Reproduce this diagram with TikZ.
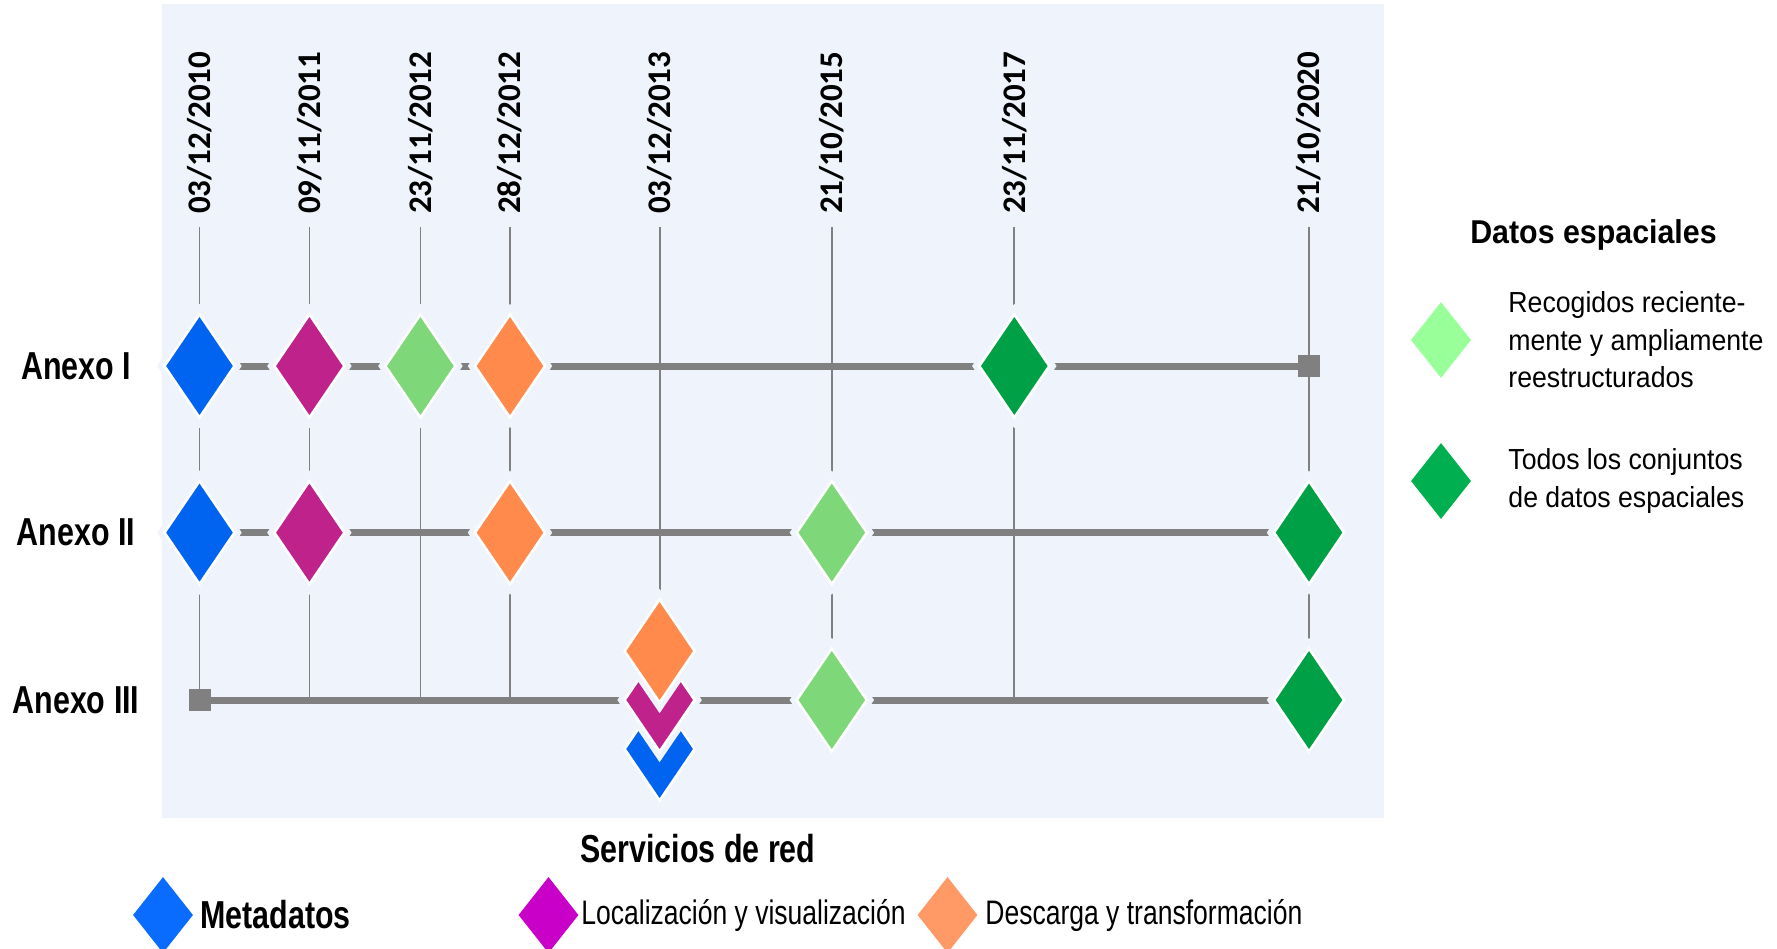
\documentclass[tikz,border=0pt]{standalone}
\usepackage{fontspec}
\setmainfont{Liberation Sans}
\newfontfamily\narrowfont[FakeStretch=0.78]{Liberation Sans}
\newfontfamily\legfont[FakeStretch=0.92]{Liberation Sans}
\newfontfamily\datefont{Carlito}
\usetikzlibrary{shapes.geometric,positioning}

\definecolor{panel}{RGB}{239,244,252}
\definecolor{linegray}{RGB}{128,128,128}
\definecolor{metablue}{RGB}{0,100,240}
\definecolor{visumag}{RGB}{192,34,140}
\definecolor{descorange}{RGB}{255,138,76}
\definecolor{recgreen}{RGB}{126,216,122}
\definecolor{allgreen}{RGB}{0,160,70}
\definecolor{legblue}{RGB}{10,108,255}
\definecolor{legmag}{RGB}{200,0,200}
\definecolor{legorange}{RGB}{255,153,102}
\definecolor{leglight}{RGB}{153,255,153}
\definecolor{legdark}{RGB}{0,176,80}

\pgfdeclarelayer{back}
\pgfdeclarelayer{lines}
\pgfsetlayers{back,lines,main}

\begin{document}
\begin{tikzpicture}[x=1pt, y=-1pt,
    hito/.style={diamond, inner sep=0, minimum width=71, minimum height=104,
        fill=#1, draw=white, line width=2.5, preaction={draw=panel, line width=12}},
    fin/.style={rectangle, inner sep=0, minimum size=22, fill=linegray},
    leyenda/.style={diamond, inner sep=0, minimum width=60, minimum height=76, fill=#1},
    tl/.style={draw=linegray, line width=7},
    vl/.style={draw=linegray, line width=1.8},
    fecha/.style={rotate=90, anchor=west, inner sep=0,
        font=\datefont\bfseries\fontsize{33}{36}\selectfont},
    anexo/.style={inner sep=0, font=\narrowfont\bfseries\fontsize{39}{44}\selectfont},
    legtext/.style={inner sep=0, align=left, font=\legfont\fontsize{29}{37.5}\selectfont},
    servtext/.style={inner sep=0, font=\narrowfont\fontsize{34}{40}\selectfont}]
    \useasboundingbox (0,0) rectangle (1777,948);
    % Background panel
    \begin{pgfonlayer}{back}
        \fill[panel] (162,4) rectangle (1384,818);
    \end{pgfonlayer}
    % Dates
    \foreach \x/\d [count=\i] in {199.5/{03/12/2010}, 309.4/{09/11/2011},
        420.4/{23/11/2012}, 510/{28/12/2012}, 659.6/{03/12/2013},
        831.8/{21/10/2015}, 1014.3/{23/11/2017}, 1309/{21/10/2020}} {
        \node[fecha] (f\i) at (\x,214) {\d};
        \coordinate (v\i) at (\x,227);
    }
    % Row labels
    \node[anexo] (r1) at (76,366) {Anexo I};
    \node[anexo] (r2) at (76,532.6) {Anexo II};
    \node[anexo] (r3) at (76,700) {Anexo III};
    % Anexo I
    \node[hito=metablue] (a1) at (199.5,366) {};
    \node[hito=visumag] (a2) at (309.4,366) {};
    \node[hito=recgreen] (a3) at (420.4,366) {};
    \node[hito=descorange] (a4) at (510,366) {};
    \node[hito=allgreen] (a5) at (1014.3,366) {};
    \node[fin] (a6) at (1309,366) {};
    % Anexo II
    \node[hito=metablue] (b1) at (199.5,532.6) {};
    \node[hito=visumag] (b2) at (309.4,532.6) {};
    \node[hito=descorange] (b3) at (510,532.6) {};
    \node[hito=recgreen] (b4) at (831.8,532.6) {};
    \node[hito=allgreen] (b5) at (1309,532.6) {};
    % Anexo III
    \node[fin] (c1) at (199.5,700) {};
    \node[hito=metablue] (c2) at (659.6,749) {};
    \node[hito=visumag] (c3) at (659.6,700) {};
    \node[hito=descorange] (c4) at (659.6,651) {};
    \node[hito=recgreen] (c5) at (831.8,700) {};
    \node[hito=allgreen] (c6) at (1309,700) {};
    % Lines
    \begin{pgfonlayer}{lines}
        \foreach \i in {1,...,8}
            \draw[vl] (v\i) -- (v\i |- c1);
        \draw[tl] (a1.center) -- (a6.center);
        \draw[tl] (b1.center) -- (b5.center);
        \draw[tl] (c1.center) -- (c6.center);
    \end{pgfonlayer}
    % Legend: spatial data
    \node[inner sep=0, font=\legfont\bfseries\fontsize{33}{38}\selectfont] (t1) at (1593.5,235) {Datos espaciales};
    \node[leyenda=leglight] (k1) at (1441,340) {};
    \node[legtext, right=37pt of k1] (k1t) {Recogidos reciente-\\mente y ampliamente\\reestructurados};
    \node[leyenda=legdark] (k2) at (1441,481) {};
    \node[legtext, right=37pt of k2] (k2t) {Todos los conjuntos\\de datos espaciales};
    % Legend: network services
    \node[anexo] (t2) at (698,849) {Servicios de red};
    \node[leyenda=legblue] (m1) at (163,915) {};
    \node[anexo, right=7pt of m1] (m1t) {Metadatos};
    \node[leyenda=legmag] (m2) at (548.5,915) {};
    \node[servtext, right=2.5pt of m2] (m2t) {Localización y visualización};
    \node[leyenda=legorange] (m3) at (947.5,915) {};
    \node[servtext, right=7.5pt of m3] (m3t) {Descarga y transformación};
\end{tikzpicture}
\end{document}
